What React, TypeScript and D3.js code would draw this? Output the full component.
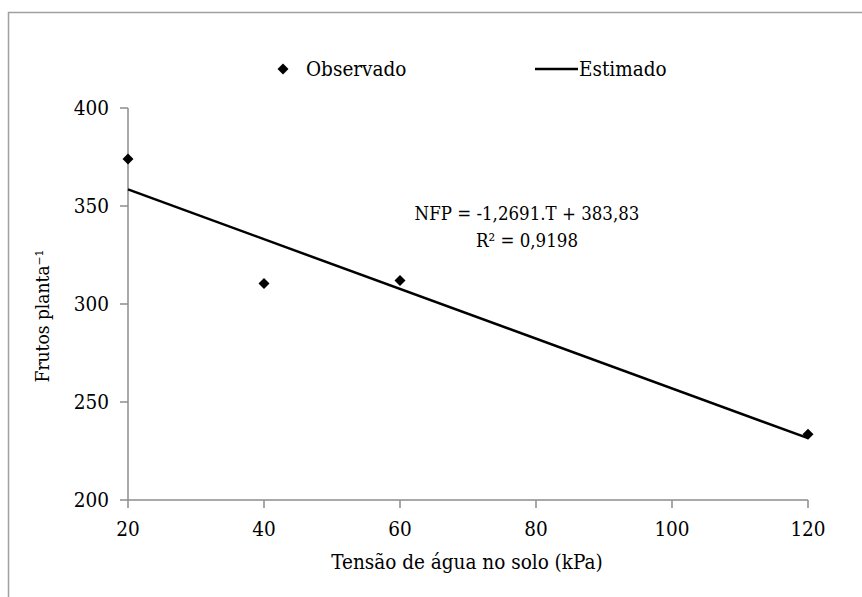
import React from "react";
import * as d3 from "d3";

// Soil water tension (kPa) and observed fruits per plant
const tension = [20, 40, 60, 120];
const fruits = [374, 310.5, 312, 233.5];

// Fitted regression: NFP = a.T + b
const slope = -1.2691;
const intercept = 383.83;

const xTicks = [20, 40, 60, 80, 100, 120];
const yTicks = [200, 250, 300, 350, 400];

const W = 862;
const H = 597;
const margin = { left: 128, right: 54, top: 108, bottom: 97 };

export default function App() {
  const x = d3.scaleLinear().domain([20, 120]).range([margin.left, W - margin.right]);
  const y = d3.scaleLinear().domain([200, 400]).range([H - margin.bottom, margin.top]);
  const axisColor = "#8c8c8c";
  const font = "'DejaVu Serif Condensed', 'DejaVu Serif', serif";
  const fs = 20.5;

  const fitLine = d3
    .line<number>()
    .x((t) => x(t))
    .y((t) => y(slope * t + intercept));

  const diamond = d3.symbol().type(d3.symbolSquare).size(60)();

  return (
    <svg
      width={W}
      height={H}
      style={{ position: "absolute", left: 0, top: 0, background: "#fff", fontFamily: font }}
    >
      <rect x={8.5} y={12.5} width={W} height={H} fill="none" stroke="#a0a0a0" strokeWidth={1.5} />

      {/* legend */}
      <path d={diamond} transform="translate(283,69) rotate(45)" fill="#000" />
      <text x={306} y={76} fontSize={fs} fill="#000">Observado</text>
      <line x1={535} x2={578} y1={69} y2={69} stroke="#000" strokeWidth={2.5} />
      <text x={579} y={76} fontSize={fs} fill="#000">Estimado</text>

      {/* y axis */}
      <line x1={x(20)} x2={x(20)} y1={y(400)} y2={y(200)} stroke={axisColor} strokeWidth={1.5} />
      {yTicks.map((v) => (
        <g key={v}>
          <line x1={x(20) - 8} x2={x(20)} y1={y(v)} y2={y(v)} stroke={axisColor} strokeWidth={1.5} />
          <text x={x(20) - 19} y={y(v) + 7} textAnchor="end" fontSize={fs} fill="#000">
            {v}
          </text>
        </g>
      ))}

      {/* x axis */}
      <line x1={x(20)} x2={x(120)} y1={y(200)} y2={y(200)} stroke={axisColor} strokeWidth={1.5} />
      {xTicks.map((v) => (
        <g key={v}>
          <line x1={x(v)} x2={x(v)} y1={y(200)} y2={y(200) + 8} stroke={axisColor} strokeWidth={1.5} />
          <text x={x(v)} y={y(200) + 36} textAnchor="middle" fontSize={fs} fill="#000">
            {v}
          </text>
        </g>
      ))}

      {/* axis titles */}
      <text x={467} y={569} textAnchor="middle" fontSize={fs} fill="#000">
        Tensão de água no solo (kPa)
      </text>
      <text
        transform="translate(49,316) rotate(-90)"
        textAnchor="middle"
        fontSize={19}
        fill="#000"
      >
        Frutos planta⁻¹
      </text>

      {/* fitted line */}
      <path d={fitLine([20, 120]) ?? ""} fill="none" stroke="#000" strokeWidth={2.5} />

      {/* observed points */}
      {tension.map((t, i) => (
        <path
          key={t}
          d={diamond}
          transform={`translate(${x(t)},${y(fruits[i])}) rotate(45)`}
          fill="#000"
        />
      ))}

      {/* equation */}
      <text x={527} y={220} textAnchor="middle" fontSize={18.5} fill="#000">
        NFP = -1,2691.T + 383,83
      </text>
      <text x={527} y={247} textAnchor="middle" fontSize={18.5} fill="#000">
        R² = 0,9198
      </text>
    </svg>
  );
}
